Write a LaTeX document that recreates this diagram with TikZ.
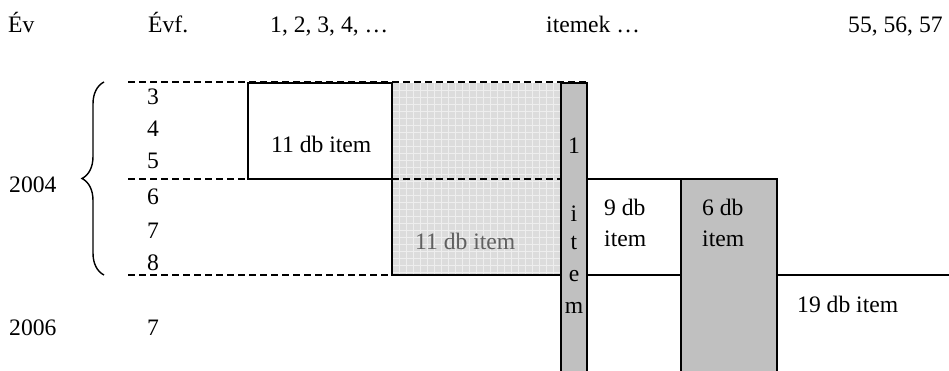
\documentclass[tikz,border=0pt]{standalone}
\usepackage{fontspec}
\setmainfont{Liberation Serif}
\usetikzlibrary{decorations.pathreplacing}
\definecolor{colgray}{RGB}{192,192,192}
\definecolor{hatchgray}{RGB}{220,220,220}
\definecolor{gridgray}{RGB}{238,238,238}
\definecolor{labgray}{RGB}{96,96,96}
\begin{document}
\begin{tikzpicture}[x=1pt,y=-1pt,
  lbl/.style={inner sep=0pt, anchor=base west, font=\fontsize{23.6}{28}\selectfont},
  solid line/.style={line width=1.4pt},
  dash line/.style={line width=1.3pt, dash pattern=on 7pt off 4pt},
  gridline/.style={gridgray, line width=0.7pt},
]
\useasboundingbox (0,0) rectangle (949,371);
% header
\node[lbl] (hev) at (8,33) {Év};
\node[lbl] (hevf) at (148,33) {Évf.};
\node[lbl] (hnum) at (270,33) {1, 2, 3, 4, …};
\node[lbl] (hitem) at (546,33) {itemek …};
\node[lbl] (hend) at (848,33) {55, 56, 57};
% hatched box
\fill[hatchgray] (392,83) rectangle (561,275);
\foreach \gx in {399,406,...,560} \draw[gridline] (\gx,83) -- (\gx,275);
\foreach \gy in {90,97,...,274} \draw[gridline] (392,\gy) -- (561,\gy);
% gray column and gray box
\fill[colgray] (561,83) rectangle (587,371);
\fill[colgray] (681,179) rectangle (777,371);
% dashed lines
\draw[dash line] (128,82) -- (587,82);
\draw[dash line] (128,179) -- (561,179);
\draw[dash line] (128,275) -- (392,275);
% white box
\draw[solid line] (248,83) rectangle (392,179);
% hatched box edges
\draw[solid line] (392,179) -- (392,275) -- (561,275);
% column
\draw[solid line] (561,371) -- (561,83) -- (587,83) -- (587,371);
% 9 db box
\draw[solid line] (587,179) -- (681,179);
\draw[solid line] (587,275) -- (681,275);
% 6 db box
\draw[solid line] (681,371) -- (681,179) -- (777,179) -- (777,371);
% 19 db line
\draw[solid line] (777,275) -- (949,275);
% brace
\draw[line width=1.4pt, decorate, decoration={brace, amplitude=22pt}] (104,275) -- (104,82);
% rows
\node[lbl] (r3) at (147,105) {3};
\node[lbl] (r4) at (147,137) {4};
\node[lbl] (r5) at (147,169) {5};
\node[lbl] (r6) at (147,205) {6};
\node[lbl] (r7) at (147,238) {7};
\node[lbl] (r8) at (147,270) {8};
\node[lbl] (r2006) at (147,335) {7};
\node[lbl] (y2004) at (9,193) {2004};
\node[lbl] (y2006) at (9,335) {2006};
% box labels
\node[lbl] (b11a) at (271,153) {11 db item};
\node[lbl, text=labgray] (b11b) at (415,249) {11 db item};
\node[lbl, anchor=base] (c1) at (574,154) {1};
\node[lbl, anchor=base] (ci) at (574,222) {i};
\node[lbl, anchor=base] (ct) at (574,249) {t};
\node[lbl, anchor=base] (ce) at (574,281) {e};
\node[lbl, anchor=base] (cm) at (574,313) {m};
\node[lbl] (b9a) at (604,215) {9 db};
\node[lbl] (b9b) at (604,247) {item};
\node[lbl] (b6a) at (702,215) {6 db};
\node[lbl] (b6b) at (702,247) {item};
\node[lbl] (b19) at (797,312) {19 db item};
\end{tikzpicture}
\end{document}
